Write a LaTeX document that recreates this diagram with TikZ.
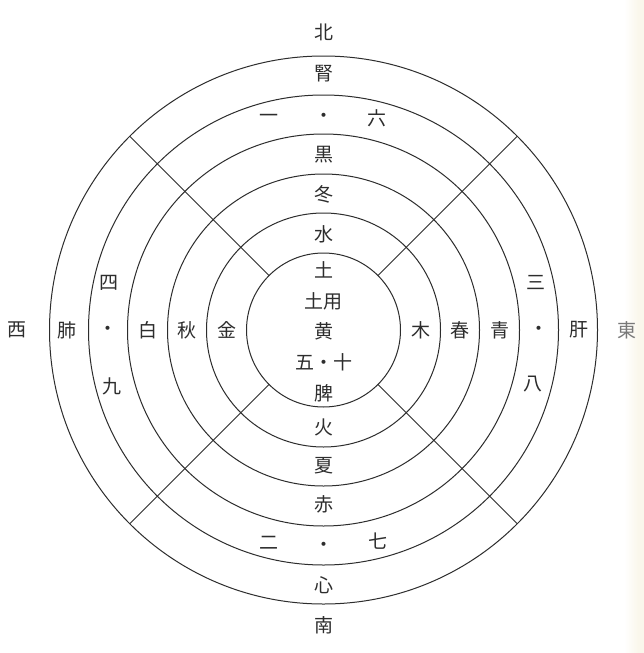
\documentclass[tikz,border=0pt]{standalone}
\usepackage{fontspec}
\usetikzlibrary{calc}
\newfontfamily\cjk{Noto Sans CJK JP}
\definecolor{ink}{RGB}{45,45,45}
\definecolor{faint}{RGB}{120,120,120}
\definecolor{cream}{RGB}{250,247,236}
\tikzset{
  lab/.style={font=\cjk\fontsize{19}{19}\selectfont, text=ink, inner sep=0pt},
  ring/.style={draw=ink, line width=1pt},
}
\begin{document}
\begin{tikzpicture}[x=1pt,y=-1pt]
\useasboundingbox (0,0) rectangle (644,653);
\fill[white] (0,0) rectangle (644,653);
\shade[left color=white, right color=cream] (624,0) rectangle (638,653);
\fill[cream] (637.5,0) rectangle (644,653);
\coordinate (C) at (323.5,330);
% circles
\foreach \r in {77,117,156,196,235,274}
  \draw[ring] (C) circle[radius=\r pt];
% diagonals
\foreach \a in {45,135,225,315}
  \draw[ring] ($(C)+(\a:77pt)$) -- ($(C)+(\a:274pt)$);
% north axis
\node[lab] (n0) at (323.5,32) {北};
\node[lab] (n1) at (323.5,74) {腎};
\node[lab] (n2a) at (269,118) {一};
\node[lab] (n2b) at (323.5,118) {・};
\node[lab] (n2c) at (377,118) {六};
\node[lab] (n3) at (323.5,155) {黒};
\node[lab] (n4) at (323.5,194) {冬};
\node[lab] (n5) at (323.5,234) {水};
% centre
\node[lab] (c1) at (323.5,270) {土};
\node[lab] (c2) at (323.5,301) {土用};
\node[lab] (c3) at (323.5,331) {黄};
\node[lab] (c4) at (323.5,362) {五・十};
\node[lab] (c5) at (323.5,393) {脾};
% south axis
\node[lab] (s5) at (323.5,427) {火};
\node[lab] (s4) at (323.5,466) {夏};
\node[lab] (s3) at (323.5,504) {赤};
\node[lab] (s2a) at (269,543) {二};
\node[lab] (s2b) at (323.5,547) {・};
\node[lab] (s2c) at (378,541) {七};
\node[lab] (s1) at (323.5,585) {心};
\node[lab] (s0) at (323.5,625) {南};
% west axis
\node[lab] (w0) at (17,330) {西};
\node[lab] (w1) at (67,330) {肺};
\node[lab] (w2a) at (109,283) {四};
\node[lab] (w2b) at (108,331) {・};
\node[lab] (w2c) at (112,386) {九};
\node[lab] (w3) at (148,330) {白};
\node[lab] (w4) at (187,330) {秋};
\node[lab] (w5) at (227,330) {金};
% east axis
\node[lab] (e5) at (421,330) {木};
\node[lab] (e4) at (460,330) {春};
\node[lab] (e3) at (499.5,330) {青};
\node[lab] (e2a) at (536,283) {三};
\node[lab] (e2b) at (539,331) {・};
\node[lab] (e2c) at (533,384) {八};
\node[lab] (e1) at (579,330) {肝};
\node[lab, text=faint] (e0) at (627,330) {東};
\end{tikzpicture}
\end{document}
